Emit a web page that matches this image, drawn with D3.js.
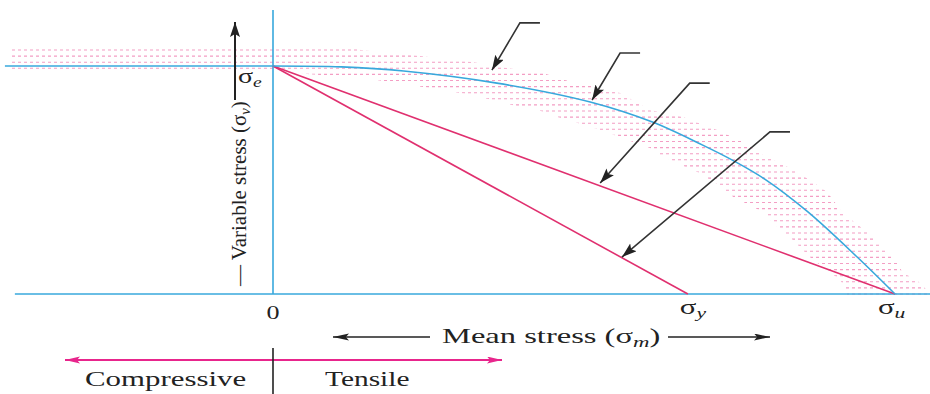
<!DOCTYPE html>
<html>
<head>
<meta charset="utf-8">
<script src="https://cdn.jsdelivr.net/npm/d3@7"></script>
<style>
  body { margin: 0; background: #fff; }
  svg { display: block; }
  text { font-family: "Liberation Serif", "Times New Roman", serif; fill: #222; }
</style>
</head>
<body>
<div id="wrapper"></div>
<script>
// critical stresses (arbitrary units, sigma_u = 100, sigma_e = 100)
const sigmaE = 100
const sigmaY = 66.7
const sigmaU = 100

// blue failure curve: [mean stress, variable stress]
const curvePoints = [
  [0, 100], [11, 99.6], [21, 97.8], [36, 92.5], [51, 84.2], [61, 75.4],
  [69, 65.4], [74, 58.5], [79, 50.5], [86, 36], [94, 16], [100, 0],
]

// scatter band of test results (outer edge, then inner edge)
const bandOuter = [
  [-42.3, 108.6], [14, 108.6], [14, 107], [23.6, 104.4], [32, 101.8], [37.6, 99.1],
  [43.4, 96.9], [46.9, 93.9], [55.8, 88.2], [60.6, 80.7], [65.9, 77.6], [71.4, 71.9],
  [75.6, 66.7], [78.8, 61], [83.1, 55.3], [86.3, 50], [89.1, 44.7], [91.6, 35.5],
  [96.5, 25], [99.7, 16.2], [101.3, 9.2], [103.5, 6.1], [105.6, 0.4], [105.6, -1],
]
const bandInner = [
  [92.3, -1], [92.3, 0.4], [91.2, 6.1], [88.4, 11.8], [86.3, 16.2], [84.7, 20.6],
  [83.1, 25], [80.4, 31.1], [79.1, 35.5], [74, 42.5], [71.9, 47.4], [70.3, 50],
  [68.6, 53.1], [66.6, 55.3], [65, 57.5], [62.2, 61], [60.6, 64], [57.9, 66.7],
  [55.3, 69.3], [52.6, 71.9], [49, 75], [45.7, 77.6], [42.6, 80.7], [38.4, 82.9],
  [34.6, 85.5], [30.1, 88.2], [24.1, 90.8], [15.6, 94.3], [5.5, 96.5], [3, 97.6],
  [-42.3, 97.6],
]

// pointer arrows: tip on the line, elbow where the short leader starts
const calloutTips = [[35.2, 98.2], [51.3, 85.1], [52.6, 48.7], [56.1, 16.2]]
const calloutElbows = [[39.7, 118.9], [55.8, 105.7], [67.0, 92.5], [79.9, 71.1]]

const blue = "#38a8dc"
const magenta = "#e0306f"
const pink = "#ee6aa5"

let dimensions = { width: 930, height: 394 }

const svg = d3.select("#wrapper")
  .append("svg")
    .attr("width", dimensions.width)
    .attr("height", dimensions.height)

// scales (origin at the axes crossing)
const xScale = d3.scaleLinear()
  .domain([0, sigmaU])
  .range([273, 895])
const yScale = d3.scaleLinear()
  .domain([0, sigmaE])
  .range([294, 66])

const defs = svg.append("defs")
function addMarker(id, color, len, wid) {
  defs.append("marker")
      .attr("id", id)
      .attr("markerUnits", "userSpaceOnUse")
      .attr("markerWidth", len + 2)
      .attr("markerHeight", wid + 2)
      .attr("refX", len)
      .attr("refY", wid / 2)
      .attr("orient", "auto-start-reverse")
    .append("path")
      .attr("d", `M0,0 L${len},${wid / 2} L0,${wid} L${len * 0.2},${wid / 2} Z`)
      .attr("fill", color)
}
addMarker("headBlack", "#222", 15, 10)
addMarker("headThin", "#222", 16, 7)
addMarker("headPink", "#e8258c", 15, 7)

const line = d3.line()
  .x(d => xScale(d[0]))
  .y(d => yScale(d[1]))

// hatched scatter band
defs.append("clipPath")
    .attr("id", "band")
  .append("path")
    .attr("d", line(bandOuter.concat(bandInner)) + "Z")

svg.append("g")
    .attr("clip-path", "url(#band)")
  .selectAll("line")
  .data(d3.range(50, 296, 6.1))
  .join("line")
    .attr("x1", 0)
    .attr("x2", dimensions.width)
    .attr("y1", d => d)
    .attr("y2", d => d)
    .attr("stroke", pink)
    .attr("stroke-width", 1.1)
    .attr("stroke-dasharray", "3,3")
    .attr("opacity", 0.65)

// axes
svg.append("line")
    .attr("x1", xScale(0)).attr("x2", xScale(0))
    .attr("y1", yScale(124.6)).attr("y2", yScale(0))
    .attr("stroke", blue).attr("stroke-width", 1.6)
svg.append("line")
    .attr("x1", xScale(-41.5)).attr("x2", dimensions.width)
    .attr("y1", yScale(0)).attr("y2", yScale(0))
    .attr("stroke", blue).attr("stroke-width", 1.6)
svg.append("line")
    .attr("x1", xScale(-43.1)).attr("x2", xScale(0))
    .attr("y1", yScale(sigmaE)).attr("y2", yScale(sigmaE))
    .attr("stroke", blue).attr("stroke-width", 1.6)

// straight lines to sigma_u and sigma_y
;[sigmaU, sigmaY].forEach(s => {
  svg.append("path")
      .attr("d", line([[0, sigmaE], [s, 0]]))
      .attr("stroke", magenta)
      .attr("stroke-width", 1.6)
      .attr("fill", "none")
})

// failure curve
svg.append("path")
    .attr("d", d3.line()
      .x(d => xScale(d[0]))
      .y(d => yScale(d[1]))
      .curve(d3.curveCatmullRom.alpha(0.5))(curvePoints))
    .attr("stroke", blue)
    .attr("stroke-width", 1.6)
    .attr("fill", "none")

// pointer arrows
calloutTips.forEach((tip, i) => {
  const ex = xScale(calloutElbows[i][0]), ey = yScale(calloutElbows[i][1])
  svg.append("path")
      .attr("d", `M${ex + 20},${ey} L${ex},${ey} L${xScale(tip[0])},${yScale(tip[1])}`)
      .attr("stroke", "#333")
      .attr("stroke-width", 1.6)
      .attr("fill", "none")
      .attr("marker-end", "url(#headBlack)")
})

// stretched text helper (the drawing is wide)
function label(x, y, sx, anchor, size, parts) {
  const t = svg.append("g")
      .attr("transform", `translate(${x},${y}) scale(${sx},1)`)
    .append("text")
      .attr("text-anchor", anchor)
      .style("font-size", size + "px")
  parts.forEach(p => {
    const s = t.append("tspan").text(p.t)
    if (p.sub) s.attr("font-style", "italic").style("font-size", (size * 0.7) + "px").attr("dy", size * 0.2)
    if (p.up) s.attr("dy", -size * 0.2)
  })
  return t
}

label(238, 83, 1.4, "start", 20, [{ t: "σ" }, { t: "e", sub: true }])
label(xScale(0), 319, 1.45, "middle", 18, [{ t: "0" }])
label(xScale(sigmaY) - 8, 314, 1.4, "start", 22, [{ t: "σ" }, { t: "y", sub: true }])
label(xScale(sigmaU) - 17, 314, 1.4, "start", 22, [{ t: "σ" }, { t: "u", sub: true }])
label(442, 343, 1.55, "start", 21, [{ t: "Mean stress (σ" }, { t: "m", sub: true }, { t: ")", up: true }])
label(85, 386, 1.47, "start", 21, [{ t: "Compressive" }])
label(325, 386, 1.4, "start", 21, [{ t: "Tensile" }])

// y axis label, rotated
const yLab = svg.append("g")
    .attr("transform", "translate(246,286) rotate(-90)")
  .append("text")
    .style("font-size", "21px")
yLab.append("tspan").text("— Variable stress (σ")
yLab.append("tspan").text("v").attr("font-style", "italic").style("font-size", "14.7px").attr("dy", 4)
yLab.append("tspan").text(")").attr("dy", -4)

// direction arrows
svg.append("line")
    .attr("x1", 235).attr("x2", 235).attr("y1", 100).attr("y2", 22)
    .attr("stroke", "#222").attr("stroke-width", 2)
    .attr("marker-end", "url(#headBlack)")
svg.append("line")
    .attr("x1", 430).attr("x2", 333).attr("y1", 337).attr("y2", 337)
    .attr("stroke", "#222").attr("stroke-width", 1.5)
    .attr("marker-end", "url(#headThin)")
svg.append("line")
    .attr("x1", 668).attr("x2", 770).attr("y1", 337).attr("y2", 337)
    .attr("stroke", "#222").attr("stroke-width", 1.5)
    .attr("marker-end", "url(#headThin)")

// compressive / tensile
svg.append("line")
    .attr("x1", 65).attr("x2", 502).attr("y1", 360).attr("y2", 360)
    .attr("stroke", "#e8258c").attr("stroke-width", 1.8)
    .attr("marker-start", "url(#headPink)")
    .attr("marker-end", "url(#headPink)")
svg.append("line")
    .attr("x1", xScale(0)).attr("x2", xScale(0)).attr("y1", 348).attr("y2", 394)
    .attr("stroke", "#222").attr("stroke-width", 1.6)
</script>
</body>
</html>
